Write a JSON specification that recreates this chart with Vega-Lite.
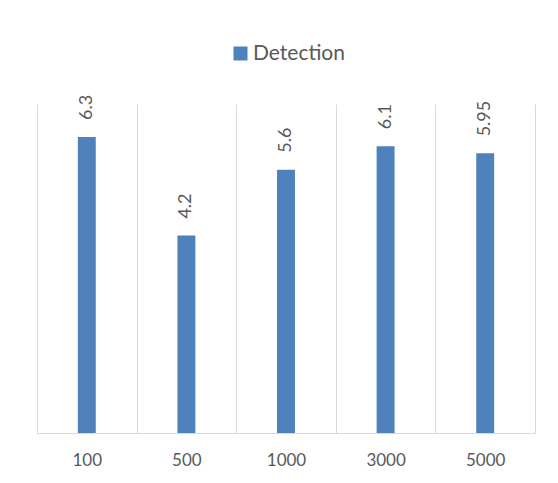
{
  "$schema": "https://vega.github.io/schema/vega-lite/v6.json",
  "autosize": {"type": "none"},
  "padding": {"left": 37, "top": 104, "right": 23, "bottom": 50},
  "width": 498,
  "height": 329,
  "background": "white",
  "config": {"view": {"stroke": null}, "font": "Lato"},
  "data": {
    "values": [
      {"threshold": "100", "value": 6.3, "series": "Detection"},
      {"threshold": "500", "value": 4.2, "series": "Detection"},
      {"threshold": "1000", "value": 5.6, "series": "Detection"},
      {"threshold": "3000", "value": 6.1, "series": "Detection"},
      {"threshold": "5000", "value": 5.95, "series": "Detection"}
    ]
  },
  "encoding": {
    "x": {
      "field": "threshold",
      "type": "nominal",
      "sort": null,
      "scale": {"paddingInner": 0.82, "paddingOuter": 0.41},
      "axis": {
        "title": null,
        "bandPosition": 0,
        "tickOffset": -40.836,
        "labelOffset": 40.836,
        "grid": true,
        "gridColor": "#d9d9d9",
        "gridWidth": 1,
        "domainColor": "#d9d9d9",
        "domainWidth": 1,
        "ticks": false,
        "labelAngle": 0,
        "labelFont": "Lato",
        "labelFontSize": 17,
        "labelColor": "#595959",
        "labelPadding": 19
      }
    },
    "y": {
      "field": "value",
      "type": "quantitative",
      "scale": {"domain": [0, 7], "nice": false},
      "axis": {
        "orient": "right",
        "title": null,
        "labels": false,
        "ticks": false,
        "grid": false,
        "domain": true,
        "domainColor": "#d9d9d9",
        "domainWidth": 1
      }
    }
  },
  "layer": [
    {
      "mark": {"type": "bar", "color": "#4f81bd"},
      "encoding": {
        "color": {
          "field": "series",
          "type": "nominal",
          "scale": {"range": ["#4f81bd"]},
          "legend": {
            "title": null,
            "orient": "none",
            "legendX": 193,
            "legendY": -61,
            "padding": 0,
            "symbolType": "square",
            "symbolSize": 196,
            "symbolStrokeWidth": 0,
            "labelOffset": 2,
            "labelFont": "Lato",
            "labelFontSize": 21,
            "labelColor": "#595959"
          }
        }
      }
    },
    {
      "mark": {
        "type": "text",
        "angle": 270,
        "align": "left",
        "baseline": "middle",
        "dx": 17,
        "font": "Lato",
        "fontSize": 18,
        "color": "#595959"
      },
      "encoding": {"text": {"field": "value", "type": "quantitative"}}
    }
  ]
}
